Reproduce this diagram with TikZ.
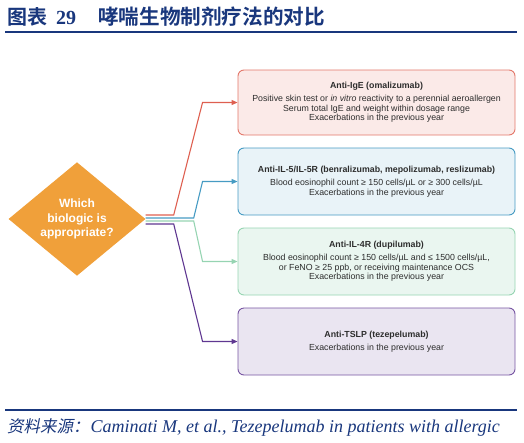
\documentclass[tikz,border=0pt]{standalone}
\usepackage{fontspec}
\setmainfont{Liberation Sans}
\newfontfamily\serif{Liberation Serif}
\newfontfamily\cjk{Noto Sans CJK SC}[BoldFont={* Bold}]
\newfontfamily\cjkslant{Noto Sans CJK SC}[FakeSlant=0.2]
\usepackage{tikz}
\usetikzlibrary{shapes, arrows.meta, positioning, calc}
\definecolor{headblue}{RGB}{25, 55, 125}
\definecolor{textgray}{RGB}{45, 45, 45}
\definecolor{diacol}{RGB}{240, 160, 58}
\definecolor{igecol}{RGB}{222, 95, 80}
\definecolor{ilfivecol}{RGB}{70, 155, 195}
\definecolor{ilfourcol}{RGB}{150, 212, 178}
\definecolor{tslpcol}{RGB}{95, 55, 145}

\begin{document}
\begin{tikzpicture}[x=1pt, y=-1pt,
    decision/.style={diamond, fill=diacol, inner sep=0pt,
                     minimum width=137pt, minimum height=98pt,
                     align=center, text=white,
                     font=\fontsize{12}{14.5}\selectfont\bfseries},
    drug/.style={draw, rounded corners=6pt, line width=0.9pt,
                 minimum width=277pt, minimum height=67pt,
                 align=center, text=textgray,
                 font=\fontsize{8.8}{9.8}\selectfont},
    link/.style={-{Triangle[length=6pt, width=5pt]}, line width=1.1pt},
    rule/.style={draw=headblue, line width=1.8pt},
]
  \useasboundingbox (0,0) rectangle (524,442);

  \node[anchor=west, text=headblue, inner sep=0pt] (title) at (7,17)
    {\fontsize{20}{24}\selectfont{\cjk\bfseries 图表}\hspace{9pt}{\serif\bfseries 29}\hspace{22pt}{\fontsize{20.6}{24}\selectfont\cjk\bfseries 哮喘生物制剂疗法的对比}};
  \draw[rule] (5,32) -- (517,32);

  \node[decision] (which) at (77,219) {Which\\biologic is\\appropriate?};

  \node[drug, draw=igecol!85, fill=igecol!13, minimum height=65pt] (ige) at (376.5,102.5)
    {\textbf{Anti-IgE (omalizumab)}\\[3pt]
     Positive skin test or \textit{in vitro} reactivity to a perennial aeroallergen\\
     Serum total IgE and weight within dosage range\\
     Exacerbations in the previous year};
  \node[drug, draw=ilfivecol, fill=ilfivecol!12] (ilfive) at (376.5,181.5)
    {\textbf{Anti-IL-5/IL-5R (benralizumab, mepolizumab, reslizumab)}\\[3pt]
     Blood eosinophil count ≥ 150 cells/µL or ≥ 300 cells/µL\\
     Exacerbations in the previous year};
  \node[drug, draw=ilfourcol, fill=ilfourcol!20] (ilfour) at (376.5,261.5)
    {\textbf{Anti-IL-4R (dupilumab)}\\[3pt]
     Blood eosinophil count ≥ 150 cells/µL and ≤ 1500 cells/µL,\\
     or FeNO ≥ 25 ppb, or receiving maintenance OCS\\
     Exacerbations in the previous year};
  \node[drug, draw=tslpcol!85, fill=tslpcol!13] (tslp) at (376.5,341.5)
    {\textbf{Anti-TSLP (tezepelumab)}\\[3pt]
     Exacerbations in the previous year};

  \draw[link, igecol]    ([yshift=4pt]which.east)  -- ++(28,0) -- ([xshift=-35pt]ige.west)    -- (ige.west);
  \draw[link, ilfivecol] ([yshift=1pt]which.east)  -- ++(48,0) -- ([xshift=-35pt]ilfive.west) -- (ilfive.west);
  \draw[link, ilfourcol] ([yshift=-2pt]which.east) -- ++(48,0) -- ([xshift=-35pt]ilfour.west) -- (ilfour.west);
  \draw[link, tslpcol]   ([yshift=-5pt]which.east) -- ++(28,0) -- ([xshift=-35pt]tslp.west)   -- (tslp.west);

  \draw[rule] (5,410) -- (517,410);
  \node[anchor=west, text=headblue, inner sep=0pt] (source) at (7,427)
    {{\fontsize{16.5}{19}\selectfont\cjkslant 资料来源：}\hspace{1pt}{\fontsize{18}{20}\selectfont\serif\itshape Caminati M, et al., Tezepelumab in patients with allergic}};
\end{tikzpicture}
\end{document}
